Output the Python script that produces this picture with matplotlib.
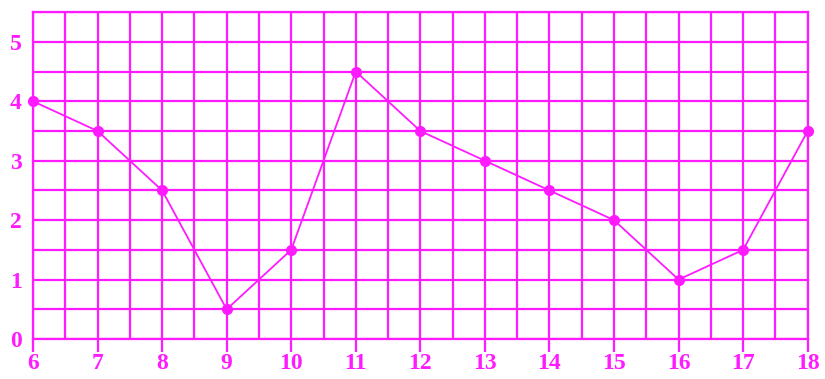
import numpy as np
import matplotlib
matplotlib.use('Agg')
import matplotlib.pyplot as plt

x_vals = [6, 7, 8, 9, 10, 11, 12, 13, 14, 15, 16, 17, 18]
y_vals = [4, 3.5, 2.5, 0.5, 1.5, 4.5, 3.5, 3, 2.5, 2, 1, 1.5, 3.5]
x_ticks = list(range(6, 19))
y_ticks = [0, 1, 2, 3, 4, 5]

pink = '#ff1aff'

fig = plt.figure(figsize=(8.25, 3.79), dpi=100)
ax = fig.add_axes([0.04, 0.1055, 0.939, 0.8625])

ax.set_xlim(6, 18)
ax.set_ylim(0, 5.5)

# grid every half unit
for gx in np.arange(6, 18.01, 0.5):
    ax.axvline(gx, color=pink, lw=1.6, zorder=1)
for gy in np.arange(0, 5.51, 0.5):
    ax.axhline(gy, color=pink, lw=1.6, zorder=1)

ax.plot(x_vals, y_vals, color=pink, lw=1.3, marker='o', markersize=7, zorder=3, clip_on=False)

for s in ax.spines.values():
    s.set_color(pink)
    s.set_linewidth(1.6)

ax.set_xticks(x_ticks)
ax.set_yticks(y_ticks)
ax.tick_params(axis='x', length=9, width=1.6, color=pink, pad=1, labelcolor=pink)
ax.tick_params(axis='y', length=0, pad=8, labelcolor=pink)
for lab in ax.get_xticklabels() + ax.get_yticklabels():
    lab.set_fontfamily('Liberation Serif')
    lab.set_fontweight('bold')
    lab.set_fontsize(17)

plt.savefig('out.png', dpi=100)
